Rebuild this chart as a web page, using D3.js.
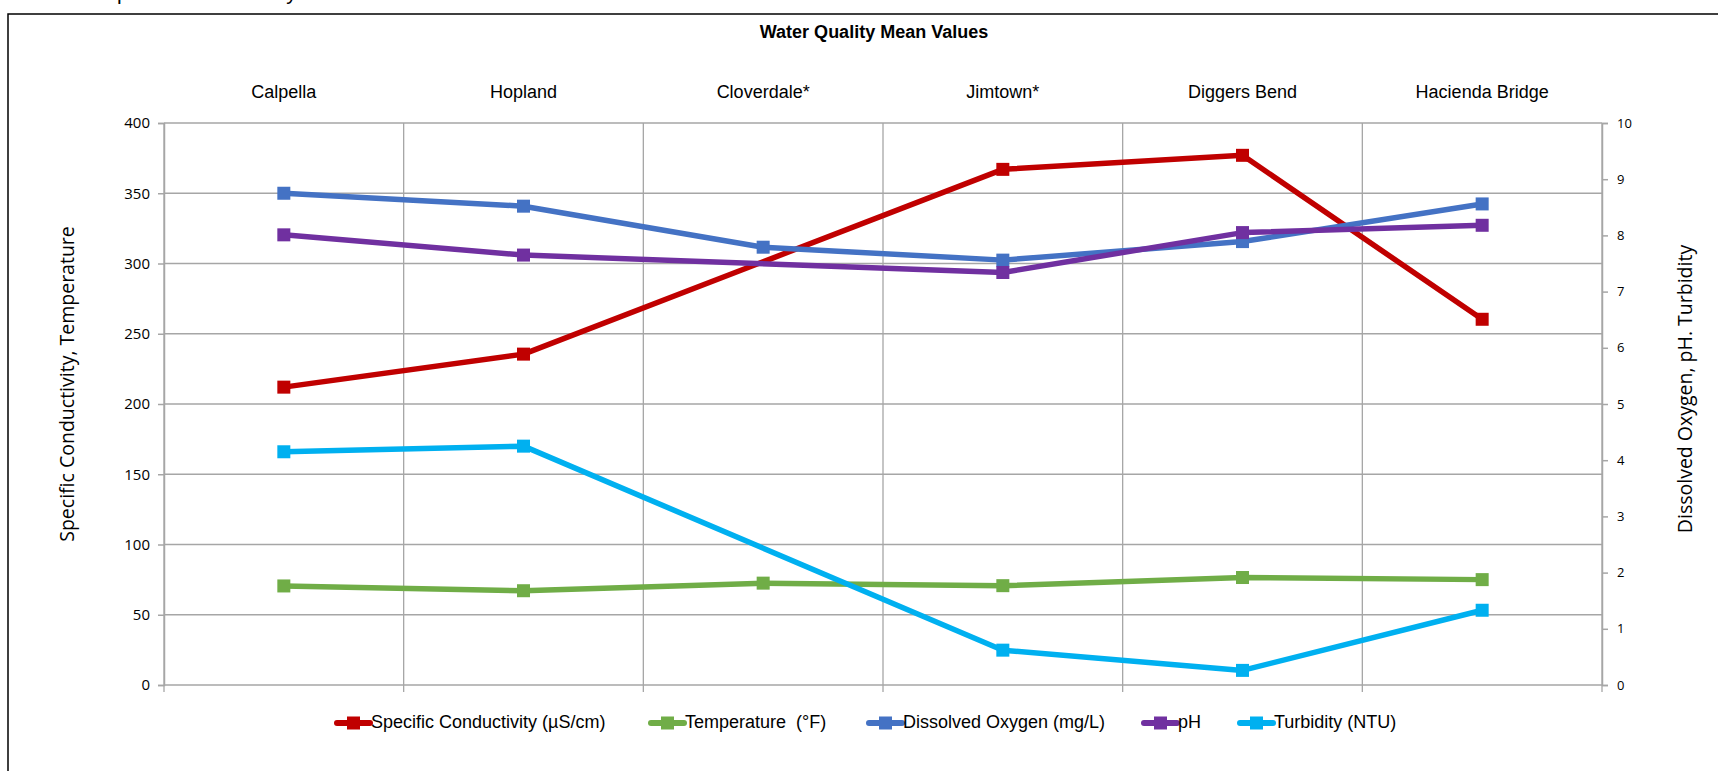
<!DOCTYPE html>
<html>
<head>
<meta charset="utf-8">
<script src="https://cdn.jsdelivr.net/npm/d3@7"></script>
<style>
  body { margin: 0; background: #fff; overflow: hidden; }
</style>
</head>
<body>
<div class="water-chart"></div>
<script>
  const categories = ["Calpella", "Hopland", "Cloverdale*", "Jimtown*", "Diggers Bend", "Hacienda Bridge"];
  const conductivity = [212, 235.5, null, 367, 377, 260.3];
  const temperature = [70.5, 67.1, 72.5, 70.7, 76.5, 75];
  const dissolvedOxygen = [8.75, 8.52, 7.79, 7.56, 7.89, 8.56];
  const pH = [8.01, 7.65, null, 7.34, 8.05, 8.18];
  const turbidity = [4.15, 4.25, null, 0.62, 0.26, 1.33];

  const leftTicks = [0, 50, 100, 150, 200, 250, 300, 350, 400];
  const rightTicks = [0, 1, 2, 3, 4, 5, 6, 7, 8, 9, 10];

  const seriesNames = ["Specific Conductivity (\u00b5S/cm)", "Temperature  (\u00b0F)", "Dissolved Oxygen (mg/L)", "pH", "Turbidity (NTU)"];
  const seriesColors = ["#c00000", "#70ad47", "#4472c4", "#7030a0", "#00b0f0"];

  const width = 1718;
  const height = 771;
  const plotLeft = 164, plotRight = 1602, plotTop = 123, plotBottom = 685;
  const gridColor = "#a6a6a6";
  const labelFont = "'Liberation Sans', Arial, sans-serif";
  const tickFont = "'Open Sans', sans-serif";

  const svg = d3.select(".water-chart")
    .append("svg")
    .attr("width", width)
    .attr("height", height);

  // outer chart border (right/bottom run off the page)
  svg.append("rect")
    .attr("x", 8)
    .attr("y", 14)
    .attr("width", 1740)
    .attr("height", 800)
    .attr("fill", "none")
    .attr("stroke", "#000")
    .attr("stroke-width", 1.5);

  // heading cut off by the top of the page, as in the source
  svg.append("text")
    .attr("x", 103)
    .attr("y", 0)
    .attr("font-family", labelFont)
    .attr("font-size", "21px")
    .text("Specific Conductivity");

  const x = d3.scaleBand()
    .domain(categories)
    .range([plotLeft, plotRight]);

  const yLeft = d3.scaleLinear()
    .domain([0, 400])
    .range([plotBottom, plotTop]);

  const yRight = d3.scaleLinear()
    .domain([0, 10])
    .range([plotBottom, plotTop]);

  const cx = d => x(d) + x.bandwidth() / 2;

  // horizontal gridlines
  svg.selectAll(".h-grid")
    .data(leftTicks)
    .enter()
    .append("line")
    .attr("class", "h-grid")
    .attr("x1", plotLeft)
    .attr("x2", plotRight)
    .attr("y1", d => yLeft(d))
    .attr("y2", d => yLeft(d))
    .attr("stroke", gridColor)
    .attr("stroke-width", 1.5);

  // vertical gridlines at category boundaries, running past the axis as ticks
  const boundaries = categories.map(d => x(d)).concat([plotRight]);
  svg.selectAll(".v-grid")
    .data(boundaries)
    .enter()
    .append("line")
    .attr("class", "v-grid")
    .attr("x1", d => d)
    .attr("x2", d => d)
    .attr("y1", plotTop)
    .attr("y2", plotBottom + 7)
    .attr("stroke", gridColor)
    .attr("stroke-width", 1.3);

  const leftAxis = svg.append("g")
    .attr("transform", `translate(${plotLeft},0)`)
    .call(d3.axisLeft(yLeft).tickValues(leftTicks).tickSize(6).tickPadding(8));

  const rightAxis = svg.append("g")
    .attr("transform", `translate(${plotRight},0)`)
    .call(d3.axisRight(yRight).tickValues(rightTicks).tickSize(6).tickPadding(9));

  leftAxis.select(".domain").attr("stroke", gridColor).attr("stroke-width", 1.5);
  rightAxis.select(".domain").attr("stroke", gridColor).attr("stroke-width", 1.5);
  leftAxis.selectAll(".tick line").attr("stroke", gridColor).attr("stroke-width", 1.5);
  rightAxis.selectAll(".tick line").attr("stroke", gridColor).attr("stroke-width", 1.5);
  leftAxis.selectAll(".tick text")
    .attr("font-family", tickFont)
    .attr("font-size", "15px")
    .attr("fill", "#000");
  rightAxis.selectAll(".tick text")
    .attr("font-family", tickFont)
    .attr("font-size", "13px")
    .attr("fill", "#000");

  // category labels along the top
  svg.selectAll(".category-label")
    .data(categories)
    .enter()
    .append("text")
    .attr("class", "category-label")
    .attr("x", d => cx(d))
    .attr("y", 93)
    .attr("text-anchor", "middle")
    .attr("dominant-baseline", "middle")
    .attr("font-family", labelFont)
    .attr("font-size", "18px")
    .attr("fill", "#000")
    .text(d => d);

  svg.append("text")
    .attr("x", 874)
    .attr("y", 33)
    .attr("text-anchor", "middle")
    .attr("dominant-baseline", "middle")
    .attr("font-family", labelFont)
    .attr("font-weight", "bold")
    .attr("font-size", "18px")
    .text("Water Quality Mean Values");

  svg.append("text")
    .attr("transform", "translate(69,384) rotate(-90)")
    .attr("text-anchor", "middle")
    .attr("dominant-baseline", "middle")
    .attr("font-family", tickFont)
    .attr("font-size", "19.5px")
    .text("Specific Conductivity, Temperature");

  svg.append("text")
    .attr("transform", "translate(1687,389) rotate(-90)")
    .attr("text-anchor", "middle")
    .attr("dominant-baseline", "middle")
    .attr("font-family", tickFont)
    .attr("font-size", "19.5px")
    .text("Dissolved Oxygen, pH. Turbidity");

  const series = [
    { values: conductivity, scale: yLeft },
    { values: temperature, scale: yLeft },
    { values: dissolvedOxygen, scale: yRight },
    { values: pH, scale: yRight },
    { values: turbidity, scale: yRight }
  ];

  const markerSize = 13;

  series.forEach((s, i) => {
    const points = categories
      .map((c, j) => ({ category: c, value: s.values[j] }))
      .filter(p => p.value !== null);

    const line = d3.line()
      .x(p => cx(p.category))
      .y(p => s.scale(p.value));

    svg.append("path")
      .datum(points)
      .attr("d", line)
      .attr("fill", "none")
      .attr("stroke", seriesColors[i])
      .attr("stroke-width", 5.5)
      .attr("stroke-linejoin", "round");

    svg.selectAll(".marker-" + i)
      .data(points)
      .enter()
      .append("rect")
      .attr("class", "marker-" + i)
      .attr("x", p => cx(p.category) - markerSize / 2)
      .attr("y", p => s.scale(p.value) - markerSize / 2)
      .attr("width", markerSize)
      .attr("height", markerSize)
      .attr("fill", seriesColors[i]);
  });

  // legend
  const legendX = [337, 651, 869, 1144, 1240];
  const legendY = 723;

  const legend = svg.selectAll(".legend-item")
    .data(seriesNames)
    .enter()
    .append("g")
    .attr("class", "legend-item")
    .attr("transform", (d, i) => `translate(${legendX[i]},${legendY})`);

  legend.append("line")
    .attr("x1", 0)
    .attr("x2", 33)
    .attr("y1", 0)
    .attr("y2", 0)
    .attr("stroke", (d, i) => seriesColors[i])
    .attr("stroke-width", 6)
    .attr("stroke-linecap", "round");

  legend.append("rect")
    .attr("x", 10)
    .attr("y", -6.5)
    .attr("width", 13)
    .attr("height", 13)
    .attr("fill", (d, i) => seriesColors[i]);

  legend.append("text")
    .attr("x", 34)
    .attr("y", 0)
    .attr("dominant-baseline", "middle")
    .attr("font-family", labelFont)
    .attr("font-size", "18px")
    .attr("fill", "#000")
    .style("white-space", "pre")
    .text(d => d);
</script>
</body>
</html>
